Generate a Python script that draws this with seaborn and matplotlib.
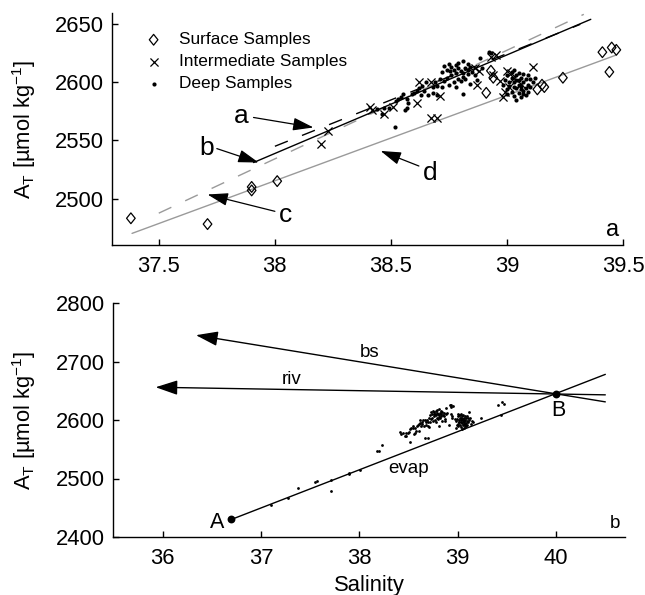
import numpy as np
import pandas as pd
import matplotlib
matplotlib.use("Agg")
import matplotlib.pyplot as plt
from matplotlib.path import Path
import seaborn as sns

# ---------------- data ----------------
surf_sal = [37.38, 37.71, 37.90, 37.90, 38.01, 38.91, 38.93, 38.94, 39.13, 39.15,
            39.16, 39.24, 39.41, 39.45, 39.47, 39.44]
surf_at = [2483, 2478, 2510, 2507, 2515, 2591, 2610, 2604, 2594, 2598,
           2596, 2604, 2626, 2630, 2628, 2609]

int_sal = [38.20, 38.23, 38.41, 38.47, 38.51, 38.61, 38.67, 38.70, 38.71, 38.67,
           38.87, 38.88, 38.93, 38.95, 38.94, 38.97, 39.00, 39.11, 38.98, 39.03,
           39.06, 38.86, 38.42, 38.62, 39.01, 38.99, 39.015]
int_at = [2547, 2558, 2579, 2573, 2579, 2582, 2569, 2569, 2588, 2600,
          2598, 2610, 2622, 2624, 2606, 2601, 2610, 2613, 2587, 2604,
          2599, 2612, 2576, 2600, 2596, 2592, 2608]

deep_sal = [38.515, 38.56, 38.47, 38.49, 38.52, 38.53, 38.575, 38.57, 38.60, 38.63,
            38.64, 38.66, 38.68, 38.635, 38.65, 38.68, 38.70, 38.70, 38.46, 38.57,
            38.545, 38.61, 38.55, 38.59, 38.62, 38.44,
            38.72, 38.755, 38.78, 38.74, 38.76, 38.78, 38.80, 38.82, 38.84, 38.79,
            38.81, 38.83, 38.85, 38.77, 38.80, 38.82, 38.75, 38.73, 38.71, 38.74,
            38.76, 38.79, 38.81, 38.83, 38.86, 38.87, 38.84, 38.78, 38.72, 38.69,
            38.81, 38.885, 38.89, 38.92, 38.77, 38.75, 38.73, 38.79, 38.81, 38.83,
            38.93,
            39.00, 39.02, 39.04, 39.06, 39.08, 39.03, 39.05, 39.07, 39.09, 39.01,
            39.04, 39.06, 39.08, 39.10, 39.02, 39.05, 39.07, 39.03, 39.06, 39.09,
            39.11, 39.12, 38.99, 38.98, 39.00, 39.02, 39.05, 39.03, 39.07, 39.09,
            39.01, 39.04, 39.06, 39.08, 39.04, 39.10, 39.00, 39.07, 39.03, 39.05]
deep_at = [2562, 2576, 2578, 2578, 2584, 2586, 2582, 2586, 2591, 2589,
           2593, 2589, 2591, 2597, 2600, 2596, 2597, 2589, 2573, 2578,
           2587, 2593, 2590, 2590, 2595, 2577,
           2609, 2610, 2615, 2604, 2606, 2608, 2610, 2612, 2613, 2603,
           2605, 2607, 2609, 2600, 2601, 2603, 2598, 2601, 2603, 2611,
           2613, 2617, 2618, 2616, 2606, 2602, 2599, 2596, 2596, 2600,
           2590, 2621, 2612, 2626, 2611, 2616, 2614, 2612, 2608, 2611,
           2625,
           2606, 2604, 2602, 2604, 2603, 2600, 2598, 2600, 2598, 2597,
           2595, 2594, 2595, 2596, 2592, 2591, 2590, 2588, 2587, 2592,
           2600, 2604, 2602, 2598, 2594, 2609, 2608, 2611, 2607, 2606,
           2600, 2606, 2597, 2589, 2585, 2603, 2590, 2593, 2596, 2602]

# samples that appear only in panel b (outside / not shown in panel a)
extra_sal = [37.10, 37.28, 37.55, 37.57, 37.71, 38.18]
extra_at = [2454, 2466, 2494, 2495, 2497, 2547]

# fitted lines in panel a: (salinity end points, AT end points)
line_a_sal, line_a_at = [38.00, 39.315], [2545, 2650]      # black dashed
line_b_sal, line_b_at = [37.908, 39.36], [2531, 2654.3]    # black solid
line_c_sal, line_c_at = [37.50, 39.33], [2487.4, 2658.6]   # grey dashed
line_d_sal, line_d_at = [37.385, 39.466], [2470, 2623.3]   # grey solid

# annotation arrows panel a: label, label pos, arrow tail, arrow tip
ann_a = [("a", (37.856, 2565.0), (37.908, 2569.8), (38.166, 2561.2)),
         ("b", (37.708, 2537.3), (37.75, 2543.0), (37.93, 2531.0)),
         ("c", (38.044, 2479.9), (38.00, 2489.0), (37.71, 2503.5)),
         ("d", (38.67, 2516.3), (38.62, 2528.0), (38.455, 2541.0))]

# panel b end members and mixing lines
pt_A = (36.7, 2430)
pt_B = (40.0, 2645)
evap_sal, evap_at = [36.7, 40.5], [2430, 2678]
bs_tail, bs_tip = (40.5, 2631), (36.34, 2745)
riv_tail, riv_tip = (40.5, 2643), (35.93, 2656)

xticks_a = [37.5, 38, 38.5, 39, 39.5]
xtlab_a = ["37.5", "38", "38.5", "39", "39.5"]
yticks_a = [2500, 2550, 2600, 2650]
xticks_b = [36, 37, 38, 39, 40]
yticks_b = [2400, 2500, 2600, 2700, 2800]

# ---------------- style ----------------
sns.set_theme(style="ticks")
plt.rcParams["font.family"] = ["Liberation Sans", "DejaVu Sans"]
plt.rcParams["mathtext.fontset"] = "custom"
plt.rcParams["mathtext.rm"] = "Liberation Sans"
plt.rcParams["mathtext.it"] = "Liberation Sans:italic"
plt.rcParams["axes.linewidth"] = 1.0
plt.rcParams["text.color"] = "black"
plt.rcParams["axes.labelcolor"] = "black"
plt.rcParams["xtick.color"] = "black"
plt.rcParams["ytick.color"] = "black"
plt.rcParams["axes.edgecolor"] = "black"

GREY = "#9a9a9a"
FS_TICK = 15.8

fig = plt.figure(figsize=(6.45, 5.95), dpi=100)
W, H = 645.0, 595.0
ax1 = fig.add_axes([112.3 / W, 1 - 245 / H, (623.3 - 112.3) / W, (245 - 12.7) / H])
ax2 = fig.add_axes([113.3 / W, 1 - 537 / H, (625 - 113.3) / W, (537 - 303) / H])

diamond = Path([(0, 1), (0.8, 0), (0, -1), (-0.8, 0), (0, 1)],
               [Path.MOVETO, Path.LINETO, Path.LINETO, Path.LINETO, Path.CLOSEPOLY])

# ---------------- panel a ----------------
sns.lineplot(x=line_c_sal, y=line_c_at, ax=ax1, color=GREY, lw=1.0,
             linestyle=(0, (10, 11)), estimator=None, sort=False, zorder=3)
sns.lineplot(x=line_d_sal, y=line_d_at, ax=ax1, color=GREY, lw=1.0,
             estimator=None, sort=False, zorder=3)
sns.lineplot(x=line_a_sal, y=line_a_at, ax=ax1, color="black", lw=1.0,
             linestyle=(0, (10, 11)), estimator=None, sort=False, zorder=3)
sns.lineplot(x=line_b_sal, y=line_b_at, ax=ax1, color="black", lw=1.0,
             estimator=None, sort=False, zorder=3)

sns.scatterplot(x=surf_sal, y=surf_at, ax=ax1, marker=diamond, s=60,
                facecolor="none", edgecolor="black", linewidth=0.9,
                label="Surface Samples", zorder=4)
sns.scatterplot(x=int_sal, y=int_at, ax=ax1, marker="x", s=34,
                color="black", linewidth=0.9, label="Intermediate Samples", zorder=4)
sns.scatterplot(x=deep_sal, y=deep_at, ax=ax1, marker="o", s=9,
                color="black", linewidth=0, label="Deep Samples", zorder=4)

arrow_kw = dict(arrowstyle="-|>,head_length=0.7,head_width=0.22", color="black",
                lw=0.9, shrinkA=0, shrinkB=0, mutation_scale=18)
for lab, tpos, tail, tip in ann_a:
    ax1.annotate("", xy=tip, xytext=tail, arrowprops=arrow_kw, zorder=5)
    ax1.text(tpos[0], tpos[1], lab, fontsize=19, ha="center", va="baseline",
             color="black")
ax1.text(39.453, 2467.6, "a", fontsize=17, ha="center", va="baseline", color="black")

ax1.set_xlim(37.3, 39.5)
ax1.set_ylim(2460, 2660)
ax1.set_xticks(xticks_a)
ax1.set_xticklabels(xtlab_a)
ax1.set_yticks(yticks_a)
ax1.set_yticklabels([str(v) for v in yticks_a])

leg = ax1.legend(frameon=False, loc="upper left", bbox_to_anchor=(0.064, 0.916),
                 fontsize=12.4, handlelength=1.0, handletextpad=1.0,
                 labelspacing=0.4, borderpad=0, borderaxespad=0)
for t in leg.get_texts():
    t.set_color("black")

# ---------------- panel b ----------------
all_sal = surf_sal + int_sal + deep_sal + extra_sal
all_at = surf_at + int_at + deep_at + extra_at
sns.lineplot(x=evap_sal, y=evap_at, ax=ax2, color="black", lw=1.0,
             estimator=None, sort=False)
arrow_kw2 = dict(arrowstyle="-|>,head_length=0.75,head_width=0.25", color="black",
                 lw=1.0, shrinkA=0, shrinkB=0, mutation_scale=18)
ax2.annotate("", xy=bs_tip, xytext=bs_tail, arrowprops=arrow_kw2)
ax2.annotate("", xy=riv_tip, xytext=riv_tail, arrowprops=arrow_kw2)
sns.scatterplot(x=all_sal, y=all_at, ax=ax2, marker="o", s=4, color="black",
                linewidth=0, legend=False, zorder=4)
sns.scatterplot(x=[pt_A[0], pt_B[0]], y=[pt_A[1], pt_B[1]], ax=ax2, marker="o",
                s=32, color="black", linewidth=0, legend=False, zorder=5)

ax2.text(38.10, 2708.2, "bs", fontsize=13.5, ha="center", va="baseline")
ax2.text(37.31, 2661.5, "riv", fontsize=13.5, ha="center", va="baseline")
ax2.text(38.505, 2508.9, "evap", fontsize=13.5, ha="center", va="baseline")
ax2.text(36.553, 2414.8, "A", fontsize=15.5, ha="center", va="baseline")
ax2.text(40.02, 2606.8, "B", fontsize=15.5, ha="center", va="baseline")
ax2.text(40.60, 2414.8, "b", fontsize=13.5, ha="center", va="baseline")

ax2.set_xlim(35.5, 40.7)
ax2.set_ylim(2400, 2800)
ax2.set_xticks(xticks_b)
ax2.set_xticklabels([str(v) for v in xticks_b])
ax2.set_yticks(yticks_b)
ax2.set_yticklabels([str(v) for v in yticks_b])
ax2.set_xlabel("Salinity", fontsize=FS_TICK, labelpad=4, color="black")

# ---------------- common styling ----------------
ylab = "A$_\\mathrm{T}$ [µmol kg$^{-1}$]"
for ax in (ax1, ax2):
    sns.despine(ax=ax)
    ax.tick_params(direction="in", length=4, width=1, labelsize=FS_TICK,
                   colors="black")
    ax.tick_params(axis="x", pad=8.0)
    ax.tick_params(axis="y", pad=6)
    ax.set_ylabel(ylab, fontsize=FS_TICK, color="black")
    ax.spines["left"].set_color("black")
    ax.spines["bottom"].set_color("black")
    ax.grid(False)
ax1.yaxis.set_label_coords((38 - 112.3) / 511.0, 0.5)
ax2.yaxis.set_label_coords((38 - 113.3) / 511.7, 0.5)

fig.savefig("out.png", dpi=100)
